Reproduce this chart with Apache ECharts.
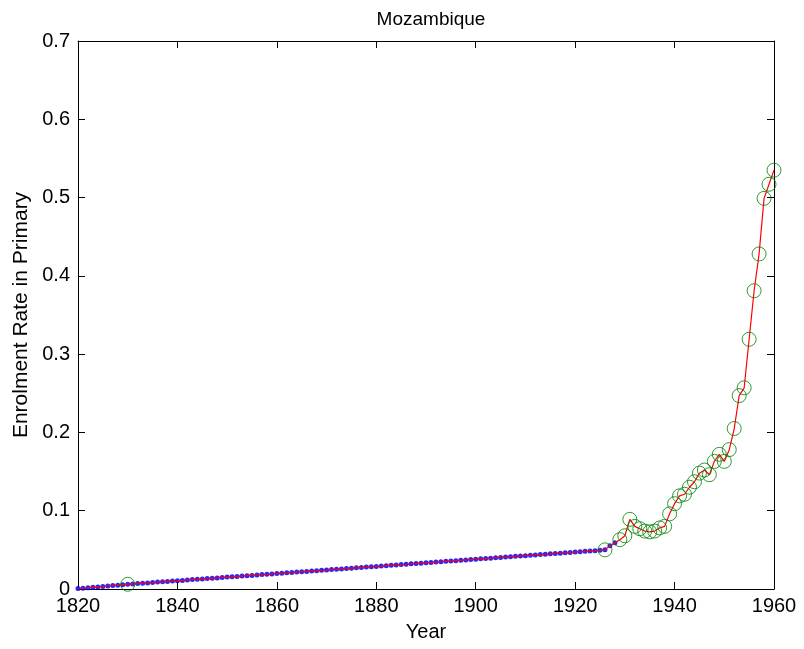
<!DOCTYPE html>
<html>
<head>
<meta charset="utf-8">
<script src="https://cdn.jsdelivr.net/npm/echarts@6/dist/echarts.min.js"></script>
<style>
html,body{margin:0;padding:0;background:#fff;}
#chart{width:804px;height:649px;}
</style>
</head>
<body>
<div id="chart"></div>
<script>
// Chart text
const titleText = 'Mozambique';
const xAxisName = 'Year';
const yAxisName = 'Enrolment Rate in Primary';
const xTicks = [1820, 1840, 1860, 1880, 1900, 1920, 1940, 1960];
const yTicks = [0, 0.1, 0.2, 0.3, 0.4, 0.5, 0.6, 0.7];

// Filled-in (blue dot) series: one value per year starting at blueStartYear
const blueStartYear = 1820;
const blueValues = [
  0.0005, 0.0011, 0.0016, 0.0022, 0.0027, 0.0033, 0.0038, 0.0044, 0.0049, 0.0055,
  0.0060, 0.0065, 0.0069, 0.0074, 0.0078, 0.0083, 0.0088, 0.0092, 0.0097, 0.0101,
  0.0106, 0.0110, 0.0115, 0.0120, 0.0124, 0.0129, 0.0133, 0.0138, 0.0142, 0.0147,
  0.0152, 0.0156, 0.0161, 0.0165, 0.0170, 0.0174, 0.0179, 0.0184, 0.0188, 0.0193,
  0.0197, 0.0202, 0.0207, 0.0211, 0.0216, 0.0220, 0.0225, 0.0229, 0.0234, 0.0239,
  0.0243, 0.0248, 0.0252, 0.0257, 0.0261, 0.0266, 0.0271, 0.0275, 0.0280, 0.0284,
  0.0289, 0.0293, 0.0298, 0.0303, 0.0307, 0.0312, 0.0316, 0.0321, 0.0325, 0.0330,
  0.0335, 0.0339, 0.0344, 0.0348, 0.0353, 0.0357, 0.0362, 0.0367, 0.0371, 0.0376,
  0.0380, 0.0385, 0.0390, 0.0394, 0.0399, 0.0403, 0.0408, 0.0412, 0.0417, 0.0422,
  0.0426, 0.0431, 0.0435, 0.0440, 0.0444, 0.0449, 0.0454, 0.0458, 0.0463, 0.0467,
  0.0472, 0.0476, 0.0481, 0.0486, 0.0490, 0.0495, 0.0500, 0.0553, 0.0591
];

// Observed (green circle) series
const obsYears = [1830, 1926, 1929, 1930, 1931, 1932, 1933, 1934, 1935, 1936,
  1937, 1938, 1939, 1940, 1941, 1942, 1943, 1944, 1945, 1946,
  1947, 1948, 1949, 1950, 1951, 1952, 1953, 1954, 1955, 1956,
  1957, 1958, 1959, 1960];
const obsValues = [0.0060, 0.0500, 0.063, 0.068, 0.089, 0.080, 0.077, 0.074, 0.073, 0.074,
  0.078, 0.080, 0.096, 0.109, 0.119, 0.121, 0.130, 0.137, 0.148, 0.152,
  0.146, 0.163, 0.172, 0.163, 0.178, 0.205, 0.247, 0.257, 0.319, 0.381,
  0.428, 0.499, 0.517, 0.535];

const bluePts = blueValues.map((v, i) => [blueStartYear + i, v]);
const obsPts = obsYears.map((y, i) => [y, obsValues[i]]);
const lineMap = new Map();
bluePts.forEach(p => lineMap.set(p[0], p[1]));
obsPts.forEach(p => lineMap.set(p[0], p[1]));
const linePts = Array.from(lineMap.entries()).sort((a, b) => a[0] - b[0]);

const FONT = 'Liberation Sans, Arial, Helvetica, sans-serif';
const chart = echarts.init(document.getElementById('chart'), null, {renderer: 'canvas'});

const baseX = {
  type: 'value', min: 1820, max: 1960, interval: 20,
  axisLine: {show: true, onZero: false, lineStyle: {color: '#000', width: 1}},
  axisTick: {show: true, inside: true, length: 7, lineStyle: {color: '#000'}},
  splitLine: {show: false}
};
const baseY = {
  type: 'value', min: 0, max: 0.7, interval: 0.1,
  axisLine: {show: true, onZero: false, lineStyle: {color: '#000', width: 1}},
  axisTick: {show: true, inside: true, length: 7, lineStyle: {color: '#000'}},
  splitLine: {show: false}
};

chart.setOption({
  backgroundColor: '#fff',
  animation: false,
  title: {
    text: titleText, left: 426, top: 5, textAlign: 'center',
    textStyle: {fontFamily: FONT, fontSize: 19, fontWeight: 'normal', color: '#000'}
  },
  grid: {left: 78, right: 30, top: 41, bottom: 60, containLabel: false},
  xAxis: [
    Object.assign({}, baseX, {
      position: 'bottom',
      name: xAxisName, nameLocation: 'middle', nameGap: 33,
      nameTextStyle: {fontFamily: FONT, fontSize: 20, color: '#000'},
      axisLabel: {show: true, color: '#000', fontFamily: FONT, fontSize: 20, margin: 7,
        formatter: v => xTicks.includes(v) ? String(v) : ''}
    }),
    Object.assign({}, baseX, {position: 'top', axisLabel: {show: false}})
  ],
  yAxis: [
    Object.assign({}, baseY, {
      position: 'left',
      name: yAxisName, nameLocation: 'middle', nameGap: 46, nameRotate: 90,
      nameTextStyle: {fontFamily: FONT, fontSize: 21, color: '#000'},
      axisLabel: {show: true, color: '#000', fontFamily: FONT, fontSize: 20, margin: 8,
        formatter: v => {
          const t = yTicks.find(k => Math.abs(k - v) < 1e-9);
          return t === undefined ? '' : (t === 0 ? '0' : t.toFixed(1));
        }}
    }),
    Object.assign({}, baseY, {position: 'right', axisLabel: {show: false}})
  ],
  series: [
    {
      type: 'scatter', xAxisIndex: 0, yAxisIndex: 0,
      data: bluePts, symbol: 'circle', symbolSize: 5,
      itemStyle: {color: '#0000ff', opacity: 0.85}, z: 2, silent: true
    },
    {
      type: 'line', xAxisIndex: 0, yAxisIndex: 0,
      data: linePts, showSymbol: false, symbol: 'none',
      lineStyle: {color: '#ff0000', width: 1.2}, z: 3, silent: true
    },
    {
      type: 'scatter', xAxisIndex: 0, yAxisIndex: 0,
      data: obsPts, symbol: 'circle', symbolSize: 14,
      itemStyle: {color: 'rgba(0,0,0,0)', borderColor: '#008000', borderWidth: 1},
      z: 4, silent: true
    }
  ]
});
</script>
</body>
</html>
